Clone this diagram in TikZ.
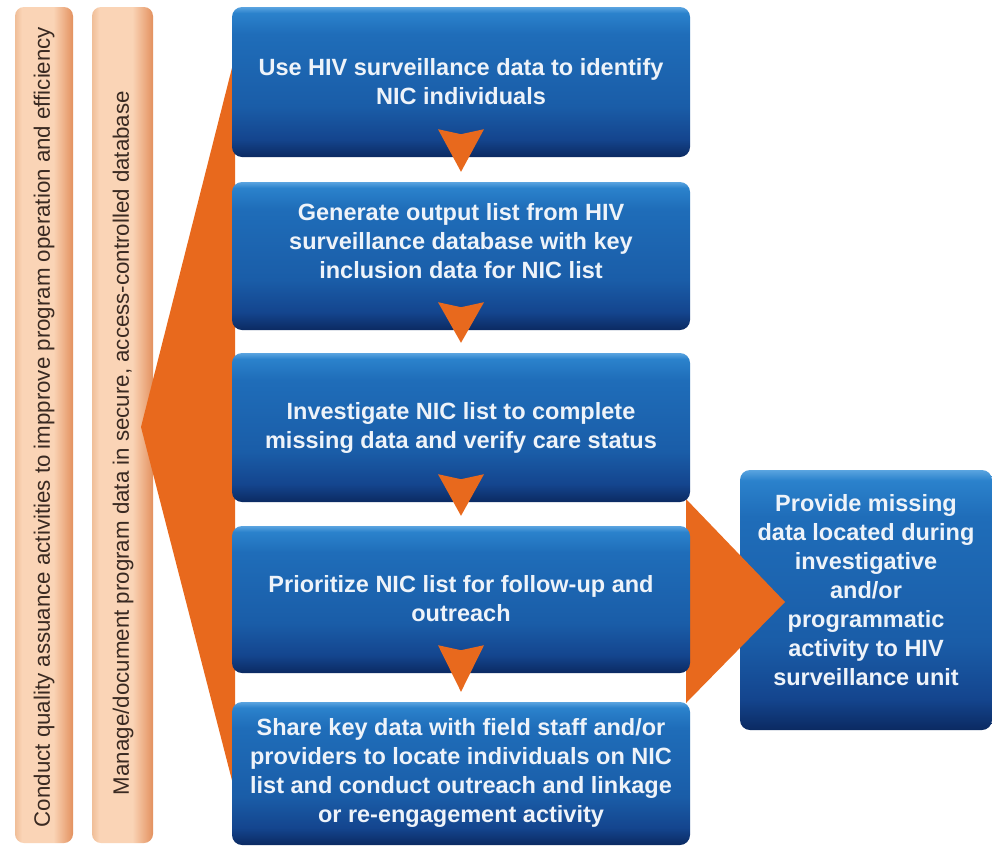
\documentclass[tikz,border=0pt]{standalone}
\usepackage{fontspec}
\setmainfont{Liberation Sans}
\usetikzlibrary{calc}
\definecolor{orangec}{HTML}{E8691D}
\definecolor{bxbot}{HTML}{0B2A62}
\definecolor{bxlow}{HTML}{14458E}
\definecolor{bxmid}{HTML}{1A5DA8}
\definecolor{bxup}{HTML}{1F6DB9}
\definecolor{bxtop}{HTML}{2B82CC}
\definecolor{bxhi}{HTML}{5AA4E0}
\definecolor{barl}{HTML}{F0BE98}
\definecolor{barc}{HTML}{FAD4B6}
\definecolor{barr}{HTML}{E3915F}
\definecolor{bartxt}{HTML}{3A2A22}
\definecolor{boxtxt}{HTML}{EEF3F9}
\pgfdeclareverticalshading{boxshade}{100bp}{color(0bp)=(bxbot); color(25bp)=(bxbot); color(31bp)=(bxlow); color(42bp)=(bxmid); color(66bp)=(bxup); color(73bp)=(bxtop); color(75bp)=(bxhi); color(100bp)=(bxhi)}
\pgfdeclarehorizontalshading{barshade}{100bp}{color(0bp)=(barl); color(25bp)=(barl); color(31bp)=(barc); color(58bp)=(barc); color(75bp)=(barr); color(100bp)=(barr)}
\tikzset{
  barbox/.style={shape=rectangle, rounded corners=9pt, shading=barshade, inner sep=0pt},
  bartext/.style={text=bartxt, font=\fontsize{22.3}{26}\selectfont, inner sep=0pt},
  bluebox/.style={shape=rectangle, rounded corners=10pt, shading=boxshade, inner sep=0pt, minimum width=458pt},
  boxtext/.style={text=boxtxt, font=\bfseries\fontsize{23.5}{29}\selectfont, align=center, inner sep=0pt},
  orangefill/.style={fill=orangec, draw=none}
}
\begin{document}
\begin{tikzpicture}[x=1pt,y=-1pt]
\useasboundingbox (0,0) rectangle (992,846);
\fill[white] (0,0) rectangle (992,846);
% side bars
\node[barbox, minimum width=58pt, minimum height=836pt] (bar1) at (44,425) {};
\node[barbox, minimum width=61pt, minimum height=836pt] (bar2) at (122.5,425) {};
\node[bartext, rotate=90] (qa) at (44,427) {Conduct quality assuance activities to impprove program operation and efficiency};
\node[bartext, rotate=90] (mg) at (123,443) {Manage/document program data in secure, access-controlled database};
% right box
\node[bluebox, minimum width=252pt, minimum height=260pt] (r) at (866,600) {};
% big orange arrows
\coordinate (ltop) at (235,56);
\coordinate (ltip) at (141,427);
\coordinate (lbot) at (235,792);
\fill[orangefill] (ltop) -- (ltip) -- (lbot) -- cycle;
\coordinate (rtop) at (686,499);
\coordinate (rtip) at (785,602);
\coordinate (rbot) at (686,703);
\fill[orangefill] (rtop) -- (rtip) -- (rbot) -- cycle;
% step boxes
\node[bluebox, minimum height=150pt] (b1) at (461,82) {};
\node[bluebox, minimum height=148pt] (b2) at (461,256) {};
\node[bluebox, minimum height=149pt] (b3) at (461,427.5) {};
\node[bluebox, minimum height=147pt] (b4) at (461,599.5) {};
\node[bluebox, minimum height=143pt] (b5) at (461,773.5) {};
% texts
\node[boxtext] (t1) at ($(b1.center)+(0,0)$) {Use HIV surveillance data to identify\\NIC individuals};
\node[boxtext] (t2) at ($(b2.center)+(0,-15)$) {Generate output list from HIV\\surveillance database with key\\inclusion data for NIC list};
\node[boxtext] (t3) at ($(b3.center)+(0,0)$) {Investigate NIC list to complete\\missing data and verify care status};
\node[boxtext] (t4) at ($(b4.center)+(0,-1)$) {Prioritize NIC list for follow-up and\\outreach};
\node[boxtext] (t5) at ($(b5.center)+(0,-1)$) {Share key data with field staff and/or\\providers to locate individuals on NIC\\list and conduct outreach and linkage\\or re-engagement activity};
\node[boxtext] (tr) at ($(r.center)+(0,-10)$) {Provide missing\\data located during\\investigative\\and/or\\programmatic\\activity to HIV\\surveillance unit};
% down arrows
\foreach \a/\b in {b1/b2,b2/b3,b3/b4,b4/b5} {
  \fill[orangefill] ($(\a.south)+(-23,-28)$) -- ($(\a.south)+(0,-23)$) -- ($(\a.south)+(23,-28)$) -- ($(\b.north)+(0,-10)$) -- cycle;
}
\end{tikzpicture}
\end{document}
